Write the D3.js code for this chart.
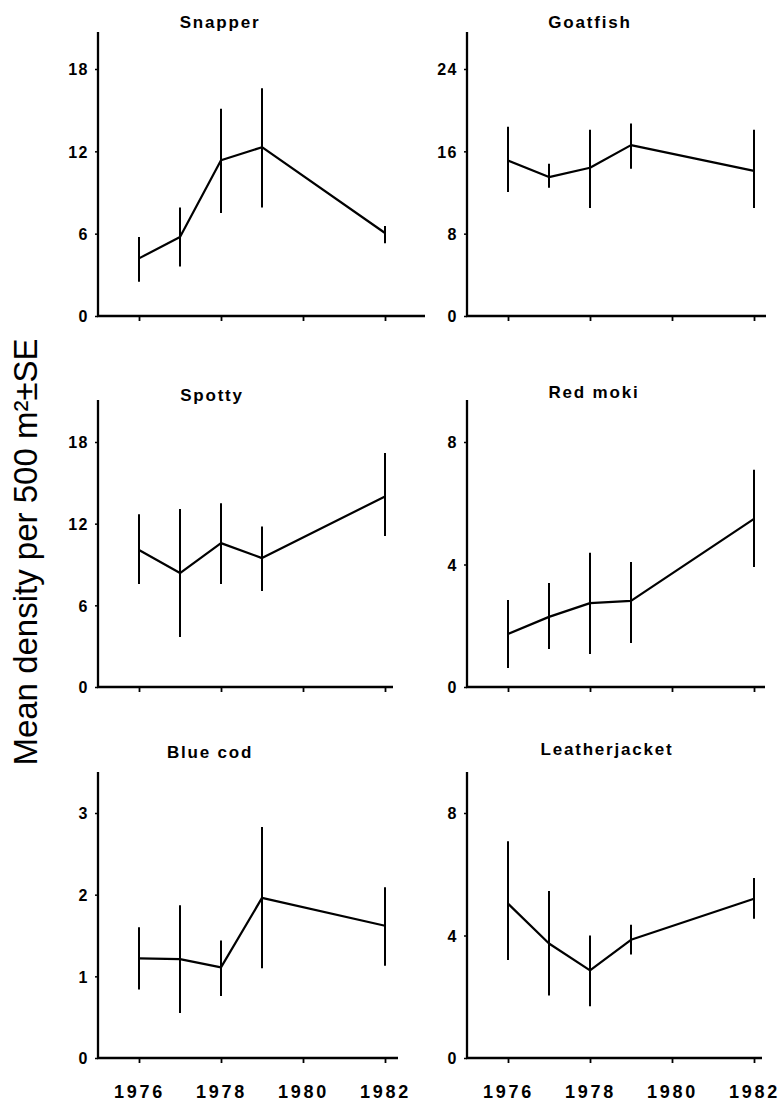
<!DOCTYPE html>
<html>
<head>
<meta charset="utf-8">
<script src="https://cdn.jsdelivr.net/npm/d3@7"></script>
<style>
  html, body { margin: 0; padding: 0; background: #fff; }
  svg { display: block; }
  .tick text { font-family: "Liberation Sans", Arial, sans-serif; font-weight: bold; fill: #000; }
</style>
</head>
<body>
<svg id="chart" width="780" height="1103"></svg>
<script>
// ---- Data ----
const years = [1976, 1977, 1978, 1979, 1982];
const yearTicks = [1976, 1978, 1980, 1982];

const speciesNames = ["Snapper", "Goatfish", "Spotty", "Red moki", "Blue cod", "Leatherjacket"];

const snapperMean = [4.2, 5.75, 11.35, 12.3, 6.05];
const snapperLo   = [2.5, 3.6, 7.5, 7.9, 5.3];
const snapperHi   = [5.75, 7.9, 15.1, 16.6, 6.55];
const snapperTicks = [0, 6, 12, 18];

const goatfishMean = [15.1, 13.5, 14.4, 16.6, 14.1];
const goatfishLo   = [12.05, 12.45, 10.5, 14.3, 10.5];
const goatfishHi   = [18.4, 14.8, 18.1, 18.7, 18.1];
const goatfishTicks = [0, 8, 16, 24];

const spottyMean = [10.06, 8.37, 10.57, 9.47, 14.0];
const spottyLo   = [7.56, 3.67, 7.56, 7.05, 11.1];
const spottyHi   = [12.7, 13.07, 13.5, 11.8, 17.2];
const spottyTicks = [0, 6, 12, 18];

const redmokiMean = [1.73, 2.29, 2.74, 2.81, 5.49];
const redmokiLo   = [0.62, 1.24, 1.08, 1.44, 3.92];
const redmokiHi   = [2.84, 3.4, 4.38, 4.08, 7.09];
const redmokiTicks = [0, 4, 8];

const bluecodMean = [1.22, 1.21, 1.11, 1.96, 1.62];
const bluecodLo   = [0.84, 0.55, 0.76, 1.1, 1.13];
const bluecodHi   = [1.6, 1.87, 1.44, 2.83, 2.09];
const bluecodTicks = [0, 1, 2, 3];

const leatherMean = [5.04, 3.74, 2.86, 3.86, 5.2];
const leatherLo   = [3.2, 2.04, 1.69, 3.38, 4.55];
const leatherHi   = [7.08, 5.45, 4.0, 4.35, 5.88];
const leatherTicks = [0, 4, 8];

const yLabel = "Mean density per 500 m²±SE";

// ---- Layout ----
const colX0 = [98, 467];          // x of 1975 (y-axis position)
const pxPerYear = 41;
const rowZero = [316, 687, 1058]; // y of value 0
const rowTopTick = [69, 442, 813];// y of highest labelled tick
const rowAxisTop = [32, 400, 772];
const titleX = [220, 590, 212, 594, 210, 607];
const titleY = [28, 28, 401, 398, 758, 755];
const axisEnd = [425, 766, 393, 765, 398, 762];

const panels = [
  {mean: snapperMean, lo: snapperLo, hi: snapperHi, ticks: snapperTicks},
  {mean: goatfishMean, lo: goatfishLo, hi: goatfishHi, ticks: goatfishTicks},
  {mean: spottyMean, lo: spottyLo, hi: spottyHi, ticks: spottyTicks},
  {mean: redmokiMean, lo: redmokiLo, hi: redmokiHi, ticks: redmokiTicks},
  {mean: bluecodMean, lo: bluecodLo, hi: bluecodHi, ticks: bluecodTicks},
  {mean: leatherMean, lo: leatherLo, hi: leatherHi, ticks: leatherTicks}
];

const svg = d3.select("#chart");

panels.forEach((p, i) => {
  const col = i % 2, row = Math.floor(i / 2);
  const x = d3.scaleLinear().domain([1975, 1982]).range([colX0[col], colX0[col] + 7 * pxPerYear]);
  const topTick = p.ticks[p.ticks.length - 1];
  const y = d3.scaleLinear().domain([0, topTick]).range([rowZero[row], rowTopTick[row]]);
  const g = svg.append("g");

  // axis lines
  g.append("line")
    .attr("x1", x(1975)).attr("x2", x(1975))
    .attr("y1", rowAxisTop[row]).attr("y2", y(0))
    .attr("stroke", "#000").attr("stroke-width", 2.3);
  g.append("line")
    .attr("x1", x(1975) - 1).attr("x2", axisEnd[i])
    .attr("y1", y(0)).attr("y2", y(0))
    .attr("stroke", "#000").attr("stroke-width", 2.5);

  // y axis ticks & labels
  const ya = g.append("g").attr("transform", `translate(${x(1975)},0)`)
    .call(d3.axisLeft(y).tickValues(p.ticks).tickSize(3).tickPadding(6).tickFormat(d3.format("d")));
  ya.select(".domain").remove();
  ya.selectAll(".tick line").attr("stroke", "#000").attr("stroke-width", 1.5);
  ya.selectAll(".tick text").attr("font-size", 16).attr("letter-spacing", "1.5px").attr("dy", "0.36em");

  // x axis ticks
  const xa = g.append("g").attr("transform", `translate(0,${y(0)})`)
    .call(d3.axisBottom(x).tickValues(yearTicks).tickSize(5).tickPadding(22)
      .tickFormat(row === 2 ? d3.format("d") : () => ""));
  xa.select(".domain").remove();
  xa.selectAll(".tick line").attr("stroke", "#000").attr("stroke-width", 1.8);
  xa.selectAll(".tick text").attr("font-size", 18).attr("letter-spacing", "2.8px").attr("dx", "0px");

  // error bars
  g.selectAll(".err").data(years).join("line")
    .attr("x1", d => x(d)).attr("x2", d => x(d))
    .attr("y1", (d, k) => y(p.hi[k])).attr("y2", (d, k) => y(p.lo[k]))
    .attr("stroke", "#000").attr("stroke-width", 2);

  // mean line
  const line = d3.line().x((d, k) => x(d)).y((d, k) => y(p.mean[k]));
  g.append("path").datum(years)
    .attr("d", line)
    .attr("fill", "none").attr("stroke", "#000").attr("stroke-width", 2.2)
    .attr("stroke-linejoin", "round");

  // title
  g.append("text")
    .attr("x", titleX[i]).attr("y", titleY[i])
    .attr("text-anchor", "middle")
    .attr("font-family", "Liberation Sans, Arial, sans-serif")
    .attr("font-weight", "bold").attr("font-size", 17).attr("letter-spacing", "1.8px")
    .text(speciesNames[i]);
});

// y-axis label
svg.append("text")
  .attr("transform", "translate(37,552) rotate(-90)")
  .attr("text-anchor", "middle")
  .attr("font-family", "Liberation Sans, Arial, sans-serif")
  .attr("font-size", 33)
  .attr("fill", "#000")
  .text(yLabel);
</script>
</body>
</html>
